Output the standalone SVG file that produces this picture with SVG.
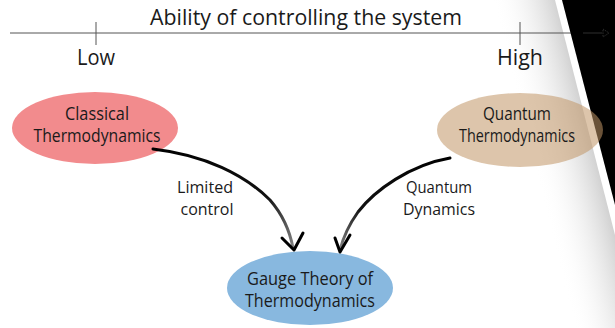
<svg xmlns="http://www.w3.org/2000/svg" width="615" height="328" viewBox="0 0 615 328">
<defs>
<linearGradient id="shade" gradientUnits="userSpaceOnUse" x1="585" y1="117" x2="525" y2="132">
<stop offset="0" stop-color="#d2d2d2"/>
<stop offset="1" stop-color="#ffffff" stop-opacity="0"/>
</linearGradient>
<linearGradient id="fadeL" gradientUnits="userSpaceOnUse" x1="153" y1="149" x2="294" y2="250">
<stop offset="0" stop-color="#000"/>
<stop offset="0.7" stop-color="#111"/>
<stop offset="1" stop-color="#888"/>
</linearGradient>
<linearGradient id="fadeR" gradientUnits="userSpaceOnUse" x1="450" y1="158" x2="340" y2="252">
<stop offset="0" stop-color="#000"/>
<stop offset="0.7" stop-color="#111"/>
<stop offset="1" stop-color="#888"/>
</linearGradient>
</defs>
<style>
text{font-family:"Open Sans","Noto Sans","Liberation Sans",sans-serif;fill:#1a1a1a;text-anchor:middle}
.ax{font-size:22px}
.nd{font-size:17.5px}
.lb{font-size:16.5px}
.arrow{fill:none;stroke-linecap:round;stroke-linejoin:round}
</style>
<rect width="615" height="328" fill="#ffffff"/>
<g id="background">
<polygon points="470,0 555,0 615,235 615,328 575,328" fill="url(#shade)"/>
<line x1="10" y1="33" x2="583" y2="33" stroke="#555" stroke-width="1"/>
<polygon points="562,0 615,0 615,205" fill="#000"/>
<line x1="583" y1="33" x2="602" y2="33" stroke="#2e2e2e" stroke-width="1"/>
<path d="M603,29 L609,33 L603,37 Z" fill="none" stroke="#3a3a3a" stroke-width="0.8" stroke-dasharray="1.5,1"/>
</g>
<g id="axis">
<text class="ax" x="306" y="25" textLength="312" lengthAdjust="spacingAndGlyphs">Ability of controlling the system</text>
<line x1="96" y1="22" x2="96" y2="45" stroke="#555" stroke-width="1"/>
<line x1="520" y1="22" x2="520" y2="45" stroke="#555" stroke-width="1"/>
<text class="ax" x="96" y="65" textLength="38" lengthAdjust="spacingAndGlyphs">Low</text>
<text class="ax" x="520" y="65" textLength="46" lengthAdjust="spacingAndGlyphs">High</text>
</g>
<g id="classical">
<ellipse cx="95" cy="128" rx="83" ry="36" fill="#f28b8d"/>
<text class="nd" x="97" y="120" textLength="64" lengthAdjust="spacingAndGlyphs">Classical</text>
<text class="nd" x="97" y="142" textLength="127" lengthAdjust="spacingAndGlyphs">Thermodynamics</text>
</g>
<g id="quantum">
<ellipse cx="520" cy="130" rx="83" ry="37" fill="#c19566" fill-opacity="0.55"/>
<text class="nd" x="517" y="120" textLength="68" lengthAdjust="spacingAndGlyphs">Quantum</text>
<text class="nd" x="517" y="142" textLength="116" lengthAdjust="spacingAndGlyphs">Thermodynamics</text>
</g>
<g id="gauge">
<ellipse cx="310" cy="288" rx="83" ry="37" fill="#88b8df"/>
<text class="nd" x="310" y="285" textLength="126" lengthAdjust="spacingAndGlyphs">Gauge Theory of</text>
<text class="nd" x="310" y="307" textLength="130" lengthAdjust="spacingAndGlyphs">Thermodynamics</text>
</g>
<g id="connectors">
<path class="arrow" d="M153,149 C205,155 245,175 270,200 C283,215 290,232 293,248" stroke="url(#fadeL)" stroke-width="3"/>
<path class="arrow" d="M282,238 L294,250 L303,233" stroke="#000" stroke-width="3"/>
<path class="arrow" d="M450,158 C410,165 375,190 358,212 C348,226 343,238 340,250" stroke="url(#fadeR)" stroke-width="3"/>
<path class="arrow" d="M335,238 L340,252 L350,235" stroke="#000" stroke-width="3"/>
<text class="lb" x="205" y="193" textLength="56" lengthAdjust="spacingAndGlyphs">Limited</text>
<text class="lb" x="207" y="215" textLength="53" lengthAdjust="spacingAndGlyphs">control</text>
<text class="lb" x="439" y="193" textLength="66" lengthAdjust="spacingAndGlyphs">Quantum</text>
<text class="lb" x="439" y="215" textLength="72" lengthAdjust="spacingAndGlyphs">Dynamics</text>
</g>
</svg>
